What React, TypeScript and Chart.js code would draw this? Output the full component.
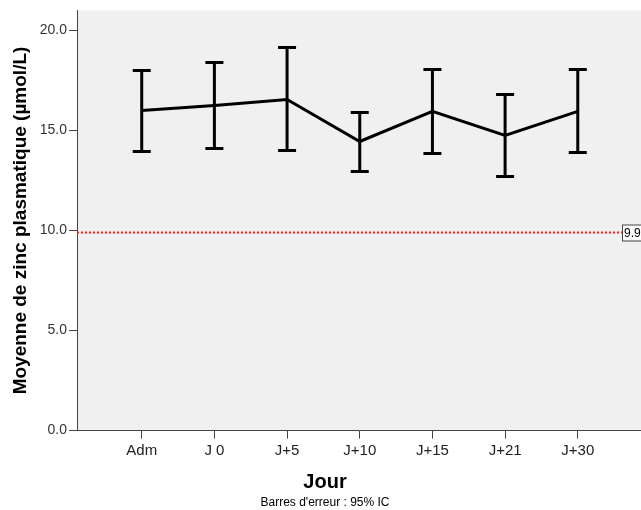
import React, { useEffect, useRef } from 'react';
import { Chart, registerables } from 'chart.js';

Chart.register(...registerables);

const categories = ['Adm', 'J 0', 'J+5', 'J+10', 'J+15', 'J+21', 'J+30'];
const means = [16.0, 16.25, 16.55, 14.45, 15.95, 14.75, 15.95];
const upper = [18.0, 18.4, 19.15, 15.9, 18.05, 16.8, 18.05];
const lower = [13.95, 14.1, 14.0, 12.95, 13.85, 12.7, 13.9];
const referenceValue = 9.9;
const yTicks = [0, 5, 10, 15, 20];

const FONT = "Arial, 'Liberation Sans', sans-serif";

const plotBg = {
  id: 'plotBg',
  beforeDraw(chart: any) {
    const { ctx, chartArea: a } = chart;
    ctx.save();
    ctx.fillStyle = '#f0f0f0';
    ctx.fillRect(a.left, a.top, a.right - a.left, a.bottom - a.top);
    ctx.restore();
  },
};

const errorBars = {
  id: 'errorBars',
  afterDatasetsDraw(chart: any) {
    const { ctx } = chart;
    const x = chart.scales.x;
    const y = chart.scales.y;
    ctx.save();
    ctx.strokeStyle = '#000';
    ctx.lineWidth = 3;
    ctx.lineCap = 'butt';
    const half = 9;
    categories.forEach((_, i) => {
      const px = x.getPixelForValue(i);
      const pu = y.getPixelForValue(upper[i]);
      const pl = y.getPixelForValue(lower[i]);
      ctx.beginPath();
      ctx.moveTo(px, pu);
      ctx.lineTo(px, pl);
      ctx.moveTo(px - half, pu);
      ctx.lineTo(px + half, pu);
      ctx.moveTo(px - half, pl);
      ctx.lineTo(px + half, pl);
      ctx.stroke();
    });
    // reference label
    const ry = y.getPixelForValue(referenceValue);
    const a = chart.chartArea;
    const bx = a.right - 19;
    ctx.fillStyle = '#ffffff';
    ctx.fillRect(bx, ry - 8, 26, 16);
    ctx.strokeStyle = '#444';
    ctx.lineWidth = 1;
    ctx.strokeRect(bx + 0.5, ry - 8 + 0.5, 26, 16);
    ctx.fillStyle = '#000';
    ctx.font = `12px ${FONT}`;
    ctx.textBaseline = 'middle';
    ctx.textAlign = 'left';
    ctx.fillText(String(referenceValue), bx + 2, ry + 1);
    ctx.restore();
  },
};

export default function App() {
  const ref = useRef<HTMLCanvasElement>(null);
  useEffect(() => {
    document.body.style.margin = '0';
    const xMin = -0.89;
    const xMax = categories.length - 1 + 0.87;
    const chart = new Chart(ref.current!, {
      type: 'line',
      data: {
        datasets: [
          {
            label: 'ref',
            data: [
              { x: xMin, y: referenceValue },
              { x: xMax, y: referenceValue },
            ],
            borderColor: '#ff1a1a',
            borderWidth: 2,
            borderDash: [2, 2],
            pointRadius: 0,
          },
          {
            label: 'Moyenne',
            data: means.map((m, i) => ({ x: i, y: m })),
            borderColor: '#000',
            borderWidth: 3,
            pointRadius: 0,
            tension: 0,
          },
        ],
      },
      options: {
        animation: false,
        responsive: false,
        layout: { padding: { top: 9, right: 0, left: 9, bottom: 0 } },
        plugins: {
          legend: { display: false },
          tooltip: { enabled: false },
          title: {
            display: true,
            position: 'bottom',
            text: "Barres d'erreur : 95% IC",
            color: '#000',
            font: { family: FONT, size: 12, weight: 'normal' },
            padding: { top: 1, bottom: 0 },
          },
          subtitle: {
            display: true,
            position: 'bottom',
            text: 'Jour',
            color: '#000',
            font: { family: FONT, size: 20, weight: 'bold' },
            padding: { top: 8, bottom: 0 },
          },
        },
        scales: {
          x: {
            type: 'linear',
            min: xMin,
            max: xMax,
            afterBuildTicks(scale: any) {
              scale.ticks = categories.map((_, i) => ({ value: i }));
            },
            ticks: {
              callback: (v: any) => categories[Number(v)] ?? '',
              color: '#222',
              font: { family: FONT, size: 15 },
              padding: 3,
              autoSkip: false,
              maxRotation: 0,
            },
            grid: {
              drawOnChartArea: false,
              drawTicks: true,
              tickLength: 8,
              color: '#444',
            },
            border: { display: true, color: '#444', width: 1 },
          },
          y: {
            min: 0,
            max: 21,
            afterBuildTicks(scale: any) {
              scale.ticks = yTicks.map((v) => ({ value: v }));
            },
            ticks: {
              callback: (v: any) => Number(v).toFixed(1),
              color: '#333',
              font: { family: FONT, size: 14 },
              padding: 2,
            },
            grid: {
              drawOnChartArea: false,
              drawTicks: true,
              tickLength: 8,
              color: '#444',
            },
            border: { display: true, color: '#444', width: 1 },
            title: {
              display: true,
              text: 'Moyenne de zinc plasmatique (µmol/L)',
              color: '#000',
              font: { family: FONT, size: 19, weight: 'bold' },
              padding: { top: 0, bottom: 6 },
            },
          },
        },
      },
      plugins: [plotBg, errorBars],
    });
    return () => chart.destroy();
  }, []);
  return <canvas ref={ref} width={641} height={510} style={{ display: 'block' }} />;
}
